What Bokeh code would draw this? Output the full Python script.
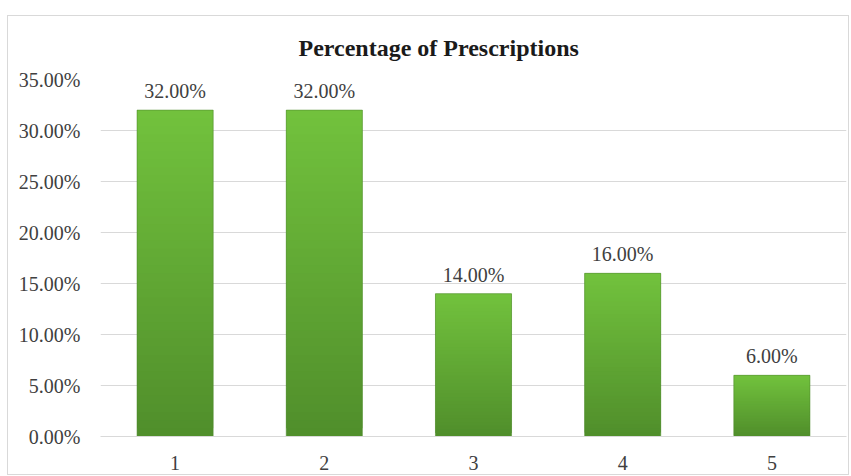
from bokeh.plotting import figure
from bokeh.models import (ColumnDataSource, Range1d, FixedTicker,
                          NumeralTickFormatter, LabelSet)
from bokeh.embed import file_html
from bokeh.resources import INLINE

# Share of prescriptions per group
categories = ["1", "2", "3", "4", "5"]
shares = [0.32, 0.32, 0.14, 0.16, 0.06]
y_ticks = [0.0, 0.05, 0.10, 0.15, 0.20, 0.25, 0.30, 0.35]
chart_title = "Percentage of Prescriptions"

SERIF = "Liberation Serif"
TEXT = "#404040"
GRID = "#d9d9d9"
BAR_TOP = (0x72, 0xc2, 0x3d)
BAR_BOTTOM = (0x50, 0x8e, 0x2b)

p = figure(
    x_range=categories,
    y_range=Range1d(0, 0.35),
    width=842, height=460,
    output_backend="svg", toolbar_location=None,
    min_border_left=92, min_border_right=4,
    min_border_top=63, min_border_bottom=40,
    styles={"margin-left": "7px", "margin-top": "15px",
            "border": "1px solid #d9d9d9"},
)
p.x_range.range_padding = 0

# Title
p.title.text = chart_title
p.title.text_font = SERIF
p.title.text_font_size = "24px"
p.title.text_font_style = "bold"
p.title.text_color = "#1a1a1a"
p.title.align = "left"
p.title.offset = 198
p.title.vertical_align = "top"
p.title.standoff = 34

# Vertical gradient on each bar, built from overlapping slices of its own height
N = 40
xs, bottoms, tops, colors = [], [], [], []
for cat, v in zip(categories, shares):
    for i in range(N):
        t = (i + 0.5) / N
        r = round(BAR_BOTTOM[0] + (BAR_TOP[0] - BAR_BOTTOM[0]) * t)
        g = round(BAR_BOTTOM[1] + (BAR_TOP[1] - BAR_BOTTOM[1]) * t)
        b = round(BAR_BOTTOM[2] + (BAR_TOP[2] - BAR_BOTTOM[2]) * t)
        xs.append(cat)
        bottoms.append(v * i / N)
        tops.append(min(v, v * (i + 2) / N))
        colors.append(f"#{r:02x}{g:02x}{b:02x}")
grad = ColumnDataSource(dict(x=xs, bottom=bottoms, top=tops, color=colors))
src = ColumnDataSource(dict(
    x=categories, top=shares,
    label=[f"{v * 100:.2f}%" for v in shares],
))

BW = 0.51
p.vbar(x="x", bottom="bottom", top="top", width=BW, source=grad,
       fill_color="color", line_color=None)
# thin darker rim around each bar
p.vbar(x="x", top="top", width=BW, source=src,
       fill_color=None, line_color="#4f8a2b", line_alpha=0.55, line_width=1)

labels = LabelSet(x="x", y="top", text="label", source=src,
                  text_align="center", text_baseline="bottom", y_offset=8,
                  text_font=SERIF, text_font_size="20px", text_color=TEXT)
p.add_layout(labels)

# Axes and grid
p.yaxis.ticker = FixedTicker(ticks=y_ticks)
p.yaxis.formatter = NumeralTickFormatter(format="0.00%")
for ax in (p.xaxis, p.yaxis):
    ax.major_label_text_font = SERIF
    ax.major_label_text_font_size = "20px"
    ax.major_label_text_color = TEXT
    ax.major_tick_line_color = None
    ax.minor_tick_line_color = None
p.yaxis.axis_line_color = None
p.yaxis.major_label_standoff = 14
p.xaxis.axis_line_color = GRID
p.xaxis.major_label_standoff = 13

p.xgrid.grid_line_color = None
p.ygrid.grid_line_color = GRID
p.ygrid.ticker = FixedTicker(ticks=y_ticks)
p.outline_line_color = None
p.background_fill_color = "white"
p.border_fill_color = "white"

open("out.html", "w").write(file_html(p, INLINE))
